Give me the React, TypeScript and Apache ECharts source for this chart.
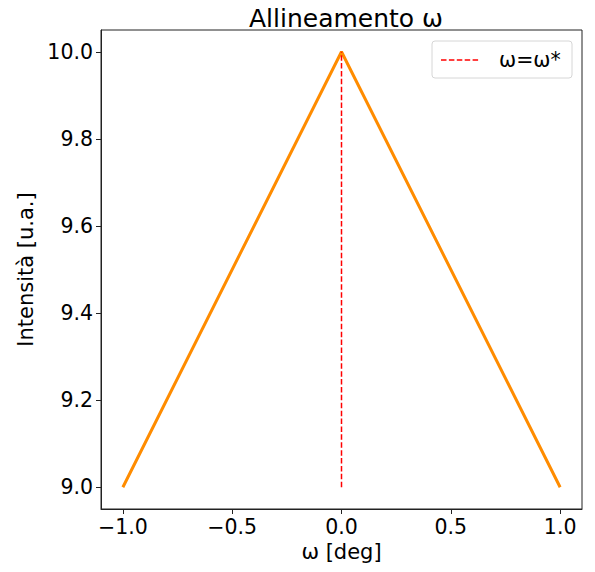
import React, { useEffect, useRef } from "react";
import * as echarts from "echarts";

const omegaDeg = [-1.0, 0.0, 1.0];
const intensity = [9.0, 10.0, 9.0];
const refX = [0.0, 0.0];
const refY = [9.0, 10.0];
const xTicks = [-1.0, -0.5, 0.0, 0.5, 1.0];
const yTicks = [9.0, 9.2, 9.4, 9.6, 9.8, 10.0];
const titleText = "Allineamento ω";
const xLabel = "ω [deg]";
const yLabel = "Intensità [u.a.]";
const legendLabel = "ω=ω*";

const FONT = "DejaVu Sans";

export default function App() {
  const ref = useRef<HTMLDivElement>(null);
  useEffect(() => {
    const chart = echarts.init(ref.current!, null, { renderer: "svg" });
    const mainData = omegaDeg.map((x, i) => [x, intensity[i]]);
    const refData = refX.map((x, i) => [x, refY[i]]);
    chart.setOption({
      animation: false,
      backgroundColor: "#fff",
      title: {
        text: titleText,
        left: 341,
        textAlign: "center",
        top: 1,
        textStyle: { fontFamily: FONT, fontSize: 25, fontWeight: "normal", color: "#000" },
      },
      grid: { left: 101, top: 30, right: 13, bottom: 63, containLabel: false },
      xAxis: {
        type: "value",
        min: -1.1,
        max: 1.1,
        name: xLabel,
        nameLocation: "middle",
        nameGap: 30,
        nameTextStyle: { fontFamily: FONT, fontSize: 21, color: "#000", verticalAlign: "top" },
        axisLine: { show: true, onZero: false, lineStyle: { color: "#222", width: 1 } },
        axisTick: { show: true, length: 5, lineStyle: { color: "#222" }, customValues: xTicks },
        axisLabel: {
          fontFamily: FONT,
          fontSize: 20.5,
          color: "#000",
          margin: 7,
          customValues: xTicks,
          formatter: (v: number) => v.toFixed(1).replace("-", "\u2212"),
        },
        splitLine: { show: false },
      },
      yAxis: {
        type: "value",
        min: 8.95,
        max: 10.05,
        name: yLabel,
        nameLocation: "middle",
        nameGap: 64,
        nameTextStyle: { fontFamily: FONT, fontSize: 21, color: "#000" },
        axisLine: { show: true, onZero: false, lineStyle: { color: "#222", width: 1 } },
        axisTick: { show: true, length: 5, lineStyle: { color: "#222" }, customValues: yTicks },
        axisLabel: {
          fontFamily: FONT,
          fontSize: 20.5,
          color: "#000",
          margin: 8,
          customValues: yTicks,
          formatter: (v: number) => v.toFixed(1),
        },
        splitLine: { show: false },
      },
      graphic: [
        {
          type: "rect",
          shape: { x: 101, y: 30, width: 481, height: 479 },
          style: { fill: "none", stroke: "#222", lineWidth: 1 },
          silent: true,
          z: 10,
        },
        {
          type: "rect",
          shape: { x: 432, y: 41, width: 140, height: 37, r: 3 },
          style: { fill: "rgba(255,255,255,0.8)", stroke: "#d6d6d6", lineWidth: 1 },
          z: 20,
        },
        {
          type: "line",
          shape: { x1: 441, y1: 60, x2: 480, y2: 60 },
          style: { stroke: "red", lineWidth: 1.5, lineDash: [5.5, 2.4] },
          z: 21,
        },
        {
          type: "text",
          x: 499,
          y: 60,
          style: {
            text: legendLabel,
            fontFamily: FONT,
            fontSize: 20.5,
            fill: "#000",
            verticalAlign: "middle",
          },
          z: 21,
        },
      ],
      series: [
        {
          type: "line",
          data: mainData,
          showSymbol: false,
          lineStyle: { color: "#ff8c00", width: 3 },
          z: 2,
        },
        {
          type: "line",
          name: legendLabel,
          data: refData,
          showSymbol: false,
          lineStyle: { color: "red", width: 1.5, type: [5.5, 2.4] },
          z: 3,
        },
      ],
    });
    return () => chart.dispose();
  }, []);
  return <div ref={ref} style={{ width: 595, height: 572, position: "absolute", left: 0, top: 0 }} />;
}
